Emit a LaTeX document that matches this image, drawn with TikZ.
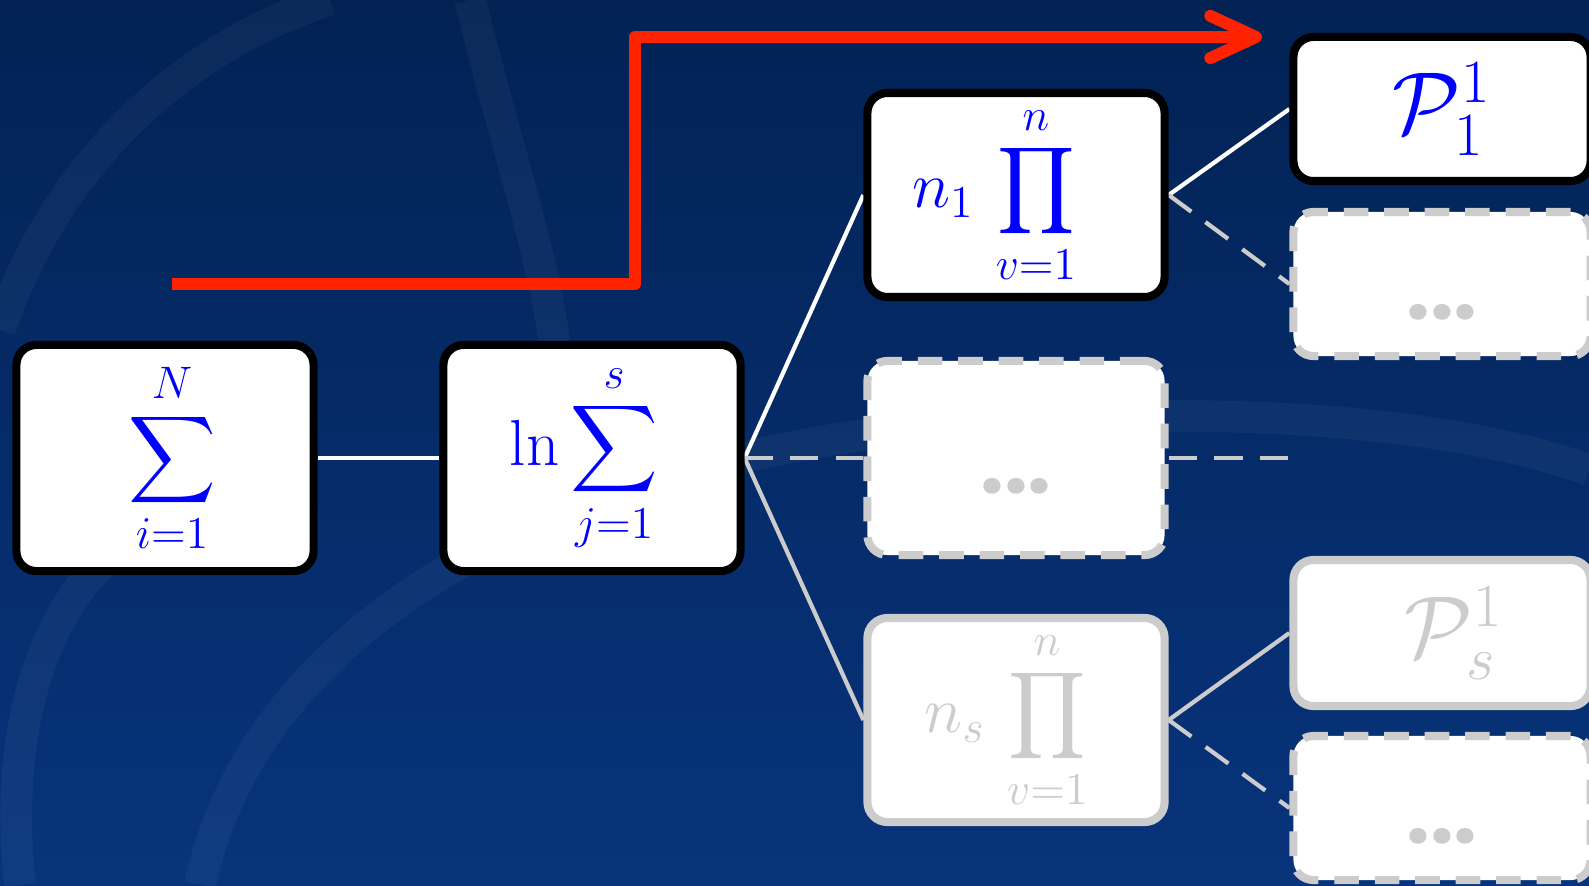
\RequirePackage{fix-cm}
\documentclass[tikz,border=0pt]{standalone}
\usepackage{amsmath}
\usepackage{fontspec}
\newfontfamily\dotsfont{Poppins}
\usetikzlibrary{arrows.meta}

\definecolor{navytop}{RGB}{2,34,84}
\definecolor{navybot}{RGB}{8,52,124}
\definecolor{boxgray}{RGB}{204,204,204}
\definecolor{pathred}{RGB}{255,34,0}
\definecolor{termblue}{RGB}{0,0,255}

\pgfdeclarelayer{bg}
\pgfdeclarelayer{links}
\pgfsetlayers{bg,links,main}

\tikzset{
  term/.style={draw=black, line width=2.3pt, fill=white, rounded corners=0.2cm,
    minimum width=2.97cm, text=termblue, font=\fontsize{18.5}{22}\selectfont},
  faded/.style={term, draw=boxgray, text=boxgray},
  hidden/.style={faded, dash pattern=on 7pt off 4.5pt, text height=0.7cm, text depth=0pt,
    font=\dotsfont\bfseries\fontsize{24}{28}\selectfont},
  link/.style={line width=1.2pt, white},
  fadedlink/.style={line width=1.2pt, boxgray},
  hiddenlink/.style={fadedlink, dash pattern=on 8pt off 5pt},
  redpath/.style={line width=3.4pt, pathred, line join=round,
    -{Straight Barb[length=13pt, width=12pt, round]}},
  swoosh/.style={white, opacity=0.04, line width=9pt},
}

\begin{document}
\begin{tikzpicture}[x=0.01cm, y=-0.01cm]
  \useasboundingbox (0,0) rectangle (1589,885);
  \begin{pgfonlayer}{bg}
    \fill[top color=navytop, bottom color=navybot] (0,0) rectangle (1589,885);
    \draw[swoosh] (0,330) .. controls (60,150) and (200,40) .. (330,0);
    \draw[swoosh] (200,885) .. controls (250,650) and (500,480) .. (900,430);
    \draw[swoosh] (900,430) .. controls (1200,400) and (1450,420) .. (1589,470);
    \draw[swoosh] (20,885) .. controls (0,700) and (60,560) .. (170,520);
    \draw[swoosh] (470,0) .. controls (520,200) and (560,300) .. (560,420);
  \end{pgfonlayer}

  % first two levels
  \node[term, minimum height=2.26cm] (outer) at (165,458) {\hspace{0.14cm}$\displaystyle\sum_{i=1}^{N}$};
  \node[term, minimum height=2.26cm] (logsum) at (592,458) {$\displaystyle\ln\sum_{j=1}^{s}$\kern0.16cm};

  % products
  \node[term, minimum height=2.03cm] (prodone) at (1016,195) {$\displaystyle n_1\,\prod_{v=1}^{n}$\kern0.44cm};
  \node[hidden, minimum height=1.94cm] (prodmid) at (1016,458) {...};
  \node[faded, minimum height=2.01cm] (prods) at (1016,720) {$\displaystyle n_s\,\prod_{v=1}^{n}$\kern0.2cm};

  % factors
  \node[term, minimum height=1.44cm, font=\fontsize{25}{28}\selectfont] (pone) at (1442,109) {$\mathcal{P}_1^1$};
  \node[hidden, minimum height=1.44cm] (pmid) at (1442,284) {...};
  \node[faded, minimum height=1.46cm, font=\fontsize{25}{28}\selectfont] (ps) at (1442,633) {\hspace{0.24cm}$\mathcal{P}_s^1$};
  \node[hidden, minimum height=1.44cm] (plast) at (1442,808) {...};

  \coordinate (midend) at (1290,458);
  \coordinate (redstart) at (172,284);
  \coordinate (redtip) at (1262,37);

  \begin{pgfonlayer}{links}
    \draw[link] (outer) -- (logsum);
    \draw[link] (logsum.east) -- (prodone.west);
    \draw[hiddenlink] (logsum.east) -- (prodmid.west);
    \draw[fadedlink] (logsum.east) -- (prods.west);
    \draw[hiddenlink] (prodmid.east) -- (midend);
    \draw[link] (prodone.east) -- (pone.west);
    \draw[hiddenlink] (prodone.east) -- (pmid.west);
    \draw[fadedlink] (prods.east) -- (ps.west);
    \draw[hiddenlink] (prods.east) -- (plast.west);
  \end{pgfonlayer}

  \draw[redpath] (redstart) -- ++(463,0) |- (redtip);
\end{tikzpicture}
\end{document}
